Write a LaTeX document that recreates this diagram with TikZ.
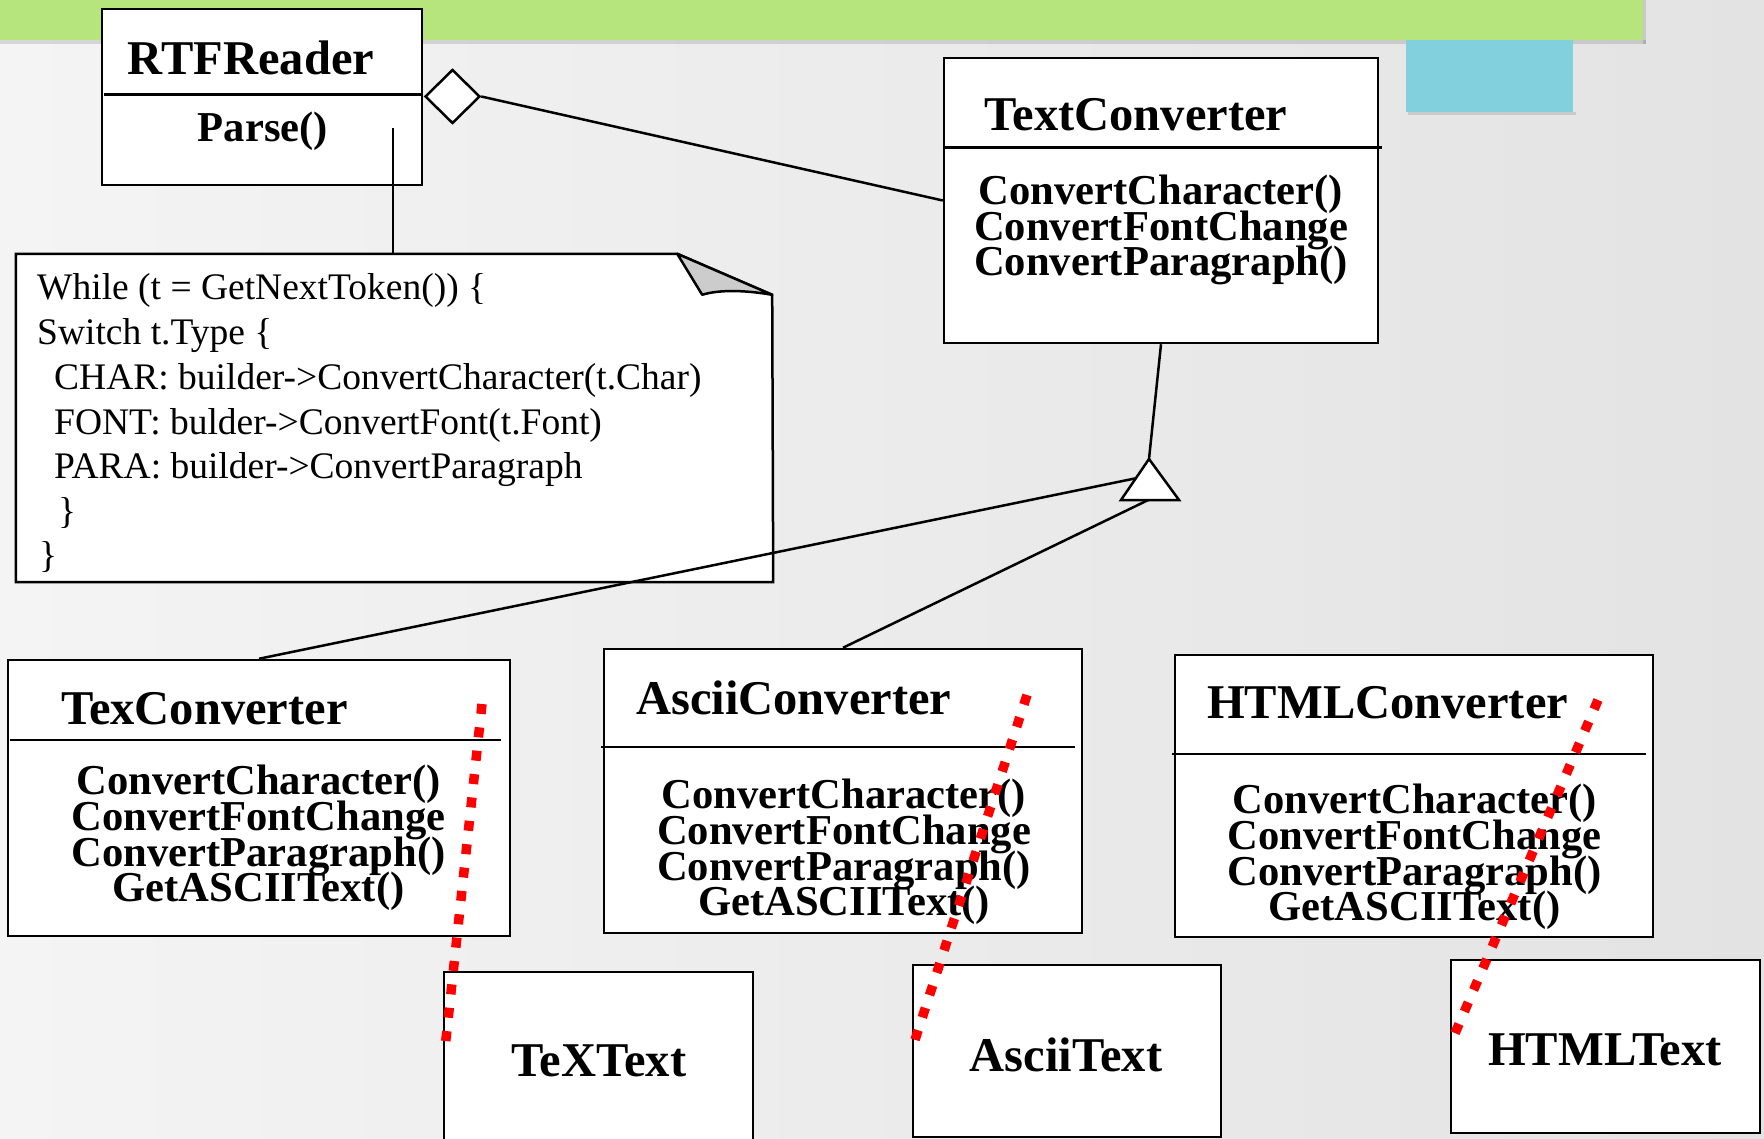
\documentclass[tikz,border=0pt]{standalone}
\usepackage{fontspec}
\setmainfont{Liberation Serif}
\usetikzlibrary{shapes.geometric,calc}

\definecolor{bgleft}{HTML}{F4F4F4}
\definecolor{bgright}{HTML}{E3E3E3}
\definecolor{barGreen}{HTML}{B6E57D}
\definecolor{tabBlue}{HTML}{82D0DE}
\definecolor{foldGray}{HTML}{CCCCCC}
\definecolor{markRed}{HTML}{FF0000}

% method lists are set with a fixed line pitch, even when glyphs touch
\protected\def\tightlines{\lineskiplimit=-60pt\relax\lineskip=0pt\relax}

\begin{document}
\begin{tikzpicture}[x=1pt,y=-1pt,
  umlbox/.style={draw=black,line width=2.5pt,fill=white,inner sep=0pt,rectangle},
  classtitle/.style={inner sep=0pt,font=\bfseries\fontsize{48.5}{50}\selectfont},
  methods/.style={inner sep=0pt,align=center,
    font=\bfseries\fontsize{42.6}{35.7}\selectfont\tightlines},
  notetext/.style={inner sep=0pt,anchor=base west,font=\fontsize{37.5}{44.5}\selectfont},
  link/.style={draw=black,line width=2.5pt},
  divider/.style={draw=black,line width=2.5pt},
  redmark/.style={draw=markRed,line width=9.5pt,dash pattern=on 10pt off 13.5pt},
]
\path[use as bounding box] (0,0) rectangle (1764,1139);
\clip (0,0) rectangle (1764,1139);

% slide background and header decorations
\shade[left color=bgleft,right color=bgright] (0,0) rectangle (1764,1139);
\fill[black,opacity=0.12] (0,40) rectangle (1646,44);
\fill[black,opacity=0.12] (1643,0) rectangle (1646,44);
\fill[barGreen] (0,0) rectangle (1643,40);
\fill[black,opacity=0.12] (1408,112) rectangle (1576,115);
\fill[tabBlue] (1406,40) rectangle (1573,112);

% RTFReader class
\node[umlbox,minimum width=320pt,minimum height=176pt] (rtf) at (262,97) {};
\draw[divider] ($(rtf.north west)+(3,87)$) -- ($(rtf.north east)+(0,87)$);
\node[classtitle] (rtf-name) at (251,57.5) {RTFReader};
\node[methods] (rtf-ops) at (263,131) {Parse()};
\coordinate (parse-tail) at (393,128);

% aggregation diamond
\node[draw=black,line width=2.5pt,fill=white,diamond,inner sep=0pt,
      minimum width=55pt,minimum height=54pt] (agg) at (452.5,96.5) {};

% TextConverter class
\node[umlbox,minimum width=434pt,minimum height=285pt] (tc) at (1161,200.5) {};
\draw[divider] ($(tc.north west)+(0,91)$) -- ($(tc.north east)+(3,91)$);
\node[classtitle] (tc-name) at (1136,115) {TextConverter};
\node[methods] (tc-ops) at (1161,230) {ConvertCharacter()\\ConvertFontChange\\ConvertParagraph()};

% note attached to Parse()
\node[inner sep=0pt,minimum width=757pt,minimum height=328pt] (note) at (394.5,418) {};
\draw[line width=2.5pt,fill=white]
  (note.north west) -- ($(note.north east)+(-96,0)$) -- ($(note.north east)+(-1,41)$)
  -- (note.south east) -- (note.south west) -- cycle;
\draw[line width=2.5pt,fill=foldGray,line join=round]
  ($(note.north east)+(-96,0)$) -- ($(note.north east)+(-1,41)$)
  .. controls ($(note.north east)+(-30,36)$) and ($(note.north east)+(-55,36)$) .. ($(note.north east)+(-71,41)$)
  -- cycle;
\node[notetext] (note-l1) at (37,300) {While (t = GetNextToken()) \{};
\node[notetext] (note-l2) at (37,345) {Switch t.Type \{};
\node[notetext] (note-l3) at (54,389) {CHAR: builder->ConvertCharacter(t.Char)};
\node[notetext] (note-l4) at (54,434) {FONT: bulder->ConvertFont(t.Font)};
\node[notetext] (note-l5) at (54,478) {PARA: builder->ConvertParagraph};
\node[notetext] (note-l6) at (58,523) {\}};
\node[notetext] (note-l7) at (39,567) {\}};

% concrete converters
\node[umlbox,minimum width=502pt,minimum height=276pt] (tex) at (259,798) {};
\draw[divider] ($(tex.north west)+(3,81)$) -- ($(tex.north east)+(-10,81)$);
\node[classtitle,anchor=west] (tex-name) at (61,709) {TexConverter};
\node[methods] (tex-ops) at (258.5,838) {ConvertCharacter()\\ConvertFontChange\\ConvertParagraph()\\GetASCIIText()};

\node[umlbox,minimum width=478pt,minimum height=284pt] (ascii) at (843,791) {};
\draw[divider] ($(ascii.north west)+(-2,99)$) -- ($(ascii.north east)+(-8,99)$);
\node[classtitle,anchor=west] (ascii-name) at (636,697.5) {AsciiConverter};
\node[methods] (ascii-ops) at (844,852) {ConvertCharacter()\\ConvertFontChange\\ConvertParagraph()\\GetASCIIText()};

\node[umlbox,minimum width=478pt,minimum height=282pt] (html) at (1414,796) {};
\draw[divider] ($(html.north west)+(-2,100)$) -- ($(html.north east)+(-8,100)$);
\node[classtitle,anchor=west] (html-name) at (1207,703) {HTMLConverter};
\node[methods] (html-ops) at (1414.5,857) {ConvertCharacter()\\ConvertFontChange\\ConvertParagraph()\\GetASCIIText()};

% products
\node[umlbox,minimum width=309pt,minimum height=228pt] (textext) at (598.5,1086) {};
\node[classtitle] (textext-name) at (599,1061) {TeXText};
\node[umlbox,minimum width=308pt,minimum height=172pt] (asciitext) at (1067,1051) {};
\node[classtitle] (asciitext-name) at (1066,1055) {AsciiText};
\node[umlbox,minimum width=309pt,minimum height=173pt] (htmltext) at (1605.5,1046.5) {};
\node[classtitle] (htmltext-name) at (1605,1050) {HTMLText};

% associations and inheritance
\draw[link] (agg.east) -- (tc.west);
\draw[link] (parse-tail) -- (parse-tail |- note.north);
\coordinate (tri-apex) at (1149,459);
\coordinate (tri-bl) at (1121,500);
\coordinate (tri-br) at (1179,500);
\draw[link] (tc.south) -- (tri-apex);
\draw[link] (tex.north) -- ($(tri-apex)!0.47!(tri-bl)$);
\draw[link] (ascii.north) -- ($(tri-bl)!0.47!(tri-br)$);
\draw[line width=2.5pt,fill=white,line join=miter] (tri-apex) -- (tri-bl) -- (tri-br) -- cycle;

% red dotted strokes
\coordinate (mark1-top) at (482,704);
\coordinate (mark1-end) at (445,1048);
\coordinate (mark2-top) at (1027,695);
\coordinate (mark2-end) at (913,1046);
\coordinate (mark3-top) at (1598,700);
\coordinate (mark3-end) at (1453,1038);
\draw[redmark] (mark1-top) -- (mark1-end);
\draw[redmark] (mark2-top) -- (mark2-end);
\draw[redmark] (mark3-top) -- (mark3-end);
\end{tikzpicture}
\end{document}
